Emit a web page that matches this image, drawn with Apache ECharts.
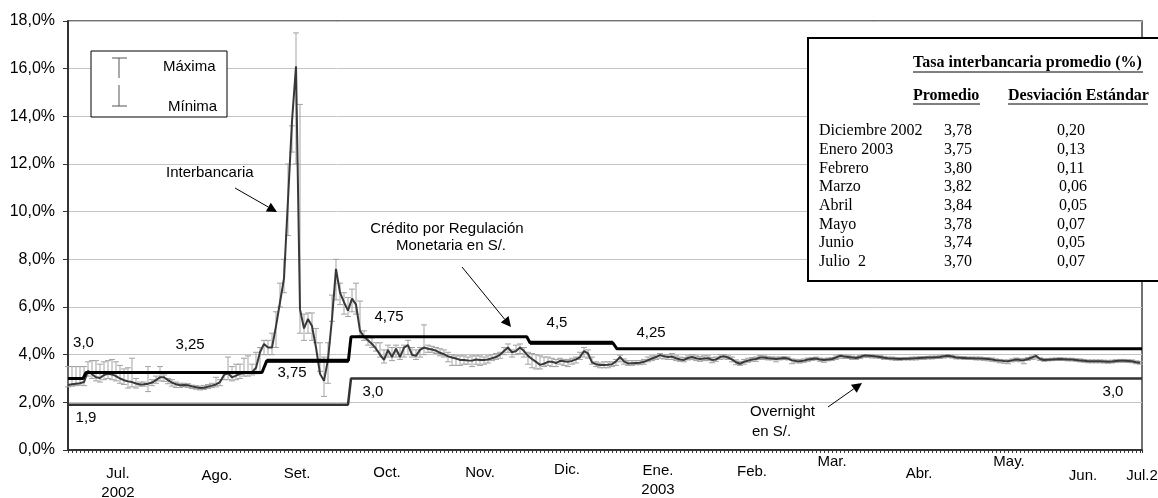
<!DOCTYPE html>
<html><head><meta charset="utf-8">
<script src="https://cdn.jsdelivr.net/npm/echarts@6/dist/echarts.min.js"></script>
<style>html,body{margin:0;padding:0;background:#fff}#c{width:1158px;height:498px}</style>
</head><body><div id="c"></div>
<script>
// ---- DATA ----
// Tasa interbancaria diaria (%), un valor por día hábil desde mediados de junio 2002 hasta el 2 de julio 2003
const interbancaria = [
 2.73,2.76,2.78,2.8,2.85,3.32,3.18,3.05,3.02,3.15,
 3.2,3.17,3.1,3.0,2.93,2.88,2.85,2.79,2.75,2.76,
 2.78,2.83,2.93,3.05,3.05,2.93,2.83,2.76,2.72,2.73,
 2.72,2.67,2.63,2.6,2.61,2.66,2.7,2.75,2.85,3.15,
 3.22,3.05,3.12,3.2,3.22,3.23,3.27,3.45,4.1,4.45,
 4.3,4.3,5.2,6.2,7.2,10.5,13.8,16.1,5.9,5.1,
 5.5,5.2,4.3,3.2,2.9,3.8,5.5,7.6,6.6,6.2,
 5.85,6.35,6.1,5.0,4.75,4.6,4.45,4.25,4.0,3.78,
 4.2,3.9,4.25,3.9,4.3,4.4,4.0,3.95,4.2,4.3,
 4.25,4.22,4.17,4.08,4.02,3.93,3.88,3.84,3.78,3.78,
 3.76,3.75,3.8,3.78,3.78,3.8,3.85,3.9,4.0,4.15,
 4.3,4.1,4.15,4.3,4.15,3.95,3.82,3.7,3.57,3.62,
 3.7,3.7,3.65,3.74,3.72,3.7,3.74,3.8,3.9,4.15,
 4.05,3.68,3.6,3.57,3.57,3.58,3.6,3.72,3.9,3.72,
 3.63,3.64,3.65,3.66,3.7,3.77,3.84,3.9,3.98,3.93,
 3.9,3.92,3.85,3.8,3.78,3.86,3.9,3.85,3.82,3.84,
 3.85,3.78,3.8,3.9,3.93,3.88,3.8,3.68,3.62,3.7,
 3.75,3.8,3.82,3.88,3.88,3.85,3.84,3.82,3.84,3.86,
 3.84,3.76,3.73,3.72,3.75,3.8,3.82,3.84,3.8,3.78,
 3.8,3.82,3.88,3.95,3.92,3.9,3.88,3.86,3.9,3.96,
 3.95,3.94,3.92,3.9,3.87,3.85,3.84,3.83,3.82,3.83,
 3.83,3.84,3.85,3.86,3.87,3.88,3.88,3.89,3.9,3.93,
 3.95,3.92,3.88,3.87,3.86,3.85,3.85,3.84,3.84,3.83,
 3.82,3.8,3.77,3.75,3.73,3.72,3.76,3.8,3.78,3.77,
 3.82,3.88,3.95,3.82,3.78,3.79,3.8,3.81,3.82,3.81,
 3.8,3.8,3.78,3.76,3.74,3.72,3.72,3.72,3.72,3.71,
 3.7,3.71,3.73,3.74,3.74,3.73,3.72,3.68,3.66
];
const maxima = [
 3.5,3.5,3.5,3.5,3.5,3.7,3.75,3.75,3.6,3.7,
 3.75,3.8,3.7,3.55,3.4,3.45,3.85,3.0,2.85,2.85,
 3.5,2.95,3.1,3.5,3.15,3.0,2.95,2.85,2.8,2.8,
 2.78,2.72,2.7,2.68,2.7,2.75,2.8,3.05,2.95,3.2,
 3.9,3.5,3.6,3.6,3.85,3.95,3.6,4.1,4.3,4.6,
 4.6,4.9,5.8,7.0,8.0,12.0,13.6,17.5,14.5,5.7,
 5.75,5.75,5.1,4.5,3.9,4.5,6.5,8.0,7.0,6.6,
 6.4,6.75,7.0,6.25,5.0,4.8,4.7,4.5,4.5,4.2,
 4.4,4.3,4.4,4.3,4.4,4.6,4.3,4.2,4.3,5.25,
 4.4,4.35,4.3,4.25,4.2,4.1,4.0,3.95,3.95,3.95,
 3.9,3.95,3.95,3.95,3.9,3.95,4.0,4.05,4.1,4.3,
 4.45,4.2,4.4,4.45,4.3,4.1,4.05,4.0,3.95,3.9,
 3.9,3.85,3.8,3.85,3.8,3.8,3.85,3.9,4.1,4.3,
 4.2,3.9,3.7,3.65,3.7,3.7,3.7,3.8,3.98,3.82,
 3.75,3.75,3.75,3.75,3.8,3.9,3.95,3.95,4.05,4.0,
 4.0,4.05,3.95,3.9,3.88,3.95,4.0,3.95,3.92,3.95,
 3.95,3.88,3.9,4.0,4.0,3.95,3.9,3.78,3.72,3.8,
 3.85,3.88,3.9,3.97,3.95,3.92,3.9,3.9,3.9,3.92,
 3.9,3.82,3.8,3.8,3.82,3.86,3.88,3.9,3.86,3.84,
 3.86,3.88,3.95,4.0,3.98,3.97,3.94,3.92,3.96,4.0,
 4.0,3.99,3.97,3.96,3.93,3.9,3.9,3.88,3.88,3.88,
 3.88,3.9,3.9,3.92,3.92,3.93,3.94,3.94,3.96,3.98,
 4.0,3.97,3.94,3.92,3.92,3.9,3.9,3.9,3.9,3.88,
 3.88,3.86,3.82,3.8,3.78,3.78,3.82,3.86,3.84,3.84,
 3.88,3.94,4.0,3.87,3.84,3.84,3.85,3.86,3.87,3.86,
 3.85,3.85,3.83,3.82,3.8,3.78,3.78,3.78,3.78,3.77,
 3.76,3.77,3.79,3.8,3.8,3.79,3.78,3.74,3.72
];
const minima = [
 2.65,2.68,2.7,2.72,2.7,3.1,3.0,2.9,2.85,2.95,
 3.0,2.95,2.9,2.8,2.75,2.6,2.65,2.6,2.68,2.68,
 2.45,2.7,2.8,2.9,2.88,2.78,2.68,2.62,2.62,2.65,
 2.62,2.58,2.55,2.52,2.54,2.58,2.62,2.65,2.7,2.95,
 2.95,2.9,2.95,3.0,3.1,3.1,3.15,3.2,3.3,4.0,
 4.0,4.0,4.3,6.0,6.6,9.0,12.5,12.0,4.9,4.6,
 4.9,4.6,4.5,3.3,2.25,2.8,5.4,6.3,6.1,5.7,
 5.6,5.8,5.7,4.8,4.6,4.4,4.3,4.15,3.9,3.65,
 3.9,3.75,3.9,3.8,3.9,4.0,3.9,3.8,3.9,4.0,
 4.1,4.1,4.05,3.95,3.9,3.7,3.55,3.55,3.55,3.6,
 3.6,3.5,3.6,3.55,3.6,3.65,3.75,3.8,3.85,4.0,
 4.1,3.9,4.0,4.05,3.9,3.6,3.45,3.4,3.4,3.5,
 3.55,3.5,3.5,3.6,3.55,3.5,3.6,3.65,3.8,3.9,
 3.85,3.6,3.5,3.45,3.45,3.45,3.5,3.55,3.7,3.6,
 3.55,3.55,3.58,3.58,3.6,3.7,3.75,3.8,3.85,3.82,
 3.8,3.8,3.75,3.72,3.7,3.78,3.8,3.75,3.72,3.75,
 3.75,3.66,3.72,3.8,3.82,3.8,3.7,3.58,3.55,3.6,
 3.68,3.72,3.72,3.8,3.8,3.78,3.78,3.7,3.78,3.8,
 3.78,3.62,3.66,3.65,3.68,3.72,3.76,3.78,3.72,3.68,
 3.74,3.76,3.8,3.85,3.84,3.84,3.8,3.8,3.84,3.88,
 3.88,3.86,3.86,3.84,3.8,3.8,3.78,3.76,3.76,3.78,
 3.78,3.78,3.78,3.8,3.8,3.82,3.82,3.84,3.84,3.86,
 3.88,3.86,3.82,3.82,3.8,3.8,3.8,3.78,3.78,3.76,
 3.74,3.72,3.7,3.66,3.64,3.62,3.7,3.72,3.7,3.62,
 3.76,3.8,3.82,3.76,3.72,3.74,3.75,3.76,3.76,3.76,
 3.74,3.74,3.72,3.7,3.68,3.66,3.66,3.66,3.66,3.65,
 3.64,3.65,3.67,3.68,3.68,3.67,3.66,3.62,3.6
];
// Crédito por Regulación Monetaria en S/. (tramos: día hábil inicial, final, tasa)
const creditoDesde = [0, 4.5, 49.7, 70.75, 115.5, 137.2];
const creditoHasta = [3.75, 48.5, 70.1, 114.7, 136.2, 268.5];
const creditoTasa  = [3.0, 3.25, 3.75, 4.75, 4.5, 4.25];
// Overnight en S/.
const overnightDesde = [0, 70.75];
const overnightHasta = [70.0, 268.5];
const overnightTasa  = [1.9, 3.0];
// Etiquetas del eje X
const mesEtiquetas = ['Jul.\n2002','Ago.','Set.','Oct.','Nov.','Dic.','Ene.\n2003','Feb.','Mar.','Abr.','May.','Jun.','Jul.2'];
const mesPosicion  = [12.5, 37.25, 57.25, 79.75, 103, 124.75, 147.5, 171, 191, 212.75, 235.25, 253.75, 268.5];
// Cuadro
const tablaMeses    = ['Diciembre 2002','Enero 2003','Febrero','Marzo','Abril','Mayo','Junio','Julio  2'];
const tablaPromedio = [3.78, 3.75, 3.80, 3.82, 3.84, 3.78, 3.74, 3.70];
const tablaDesv     = [0.20, 0.13, 0.11, 0.06, 0.05, 0.07, 0.05, 0.07];

// ---- STYLE / LAYOUT ----
const mesDesplaz = [12,14,12,11,11,8,9,10,0,12,0,14,14];
const creditoGrosor = [3,3,4,3,4,3];
const SANS = 'Liberation Sans, Arial, sans-serif';
const SERIF = 'Liberation Serif, Times New Roman, serif';
const fmtComa = (v, d) => v.toFixed(d).replace('.', ',');

function tramoLinea(desde, hasta, tasa) {
  const pts = [];
  for (let i = 0; i < tasa.length; i++) {
    pts.push([desde[i], tasa[i]]);
    pts.push([hasta[i], tasa[i]]);
  }
  return pts;
}
function tramosGruesos(desde, hasta, tasa, grosor) {
  const pts = [];
  for (let i = 0; i < tasa.length; i++) {
    if (grosor[i] > 3) {
      pts.push([desde[i], tasa[i]], [hasta[i], tasa[i]], [null, null]);
    }
  }
  return pts;
}

const rich = { n: { fontSize: 15, lineHeight: 24, fontFamily: SANS, color: '#000', verticalAlign: 'middle' } };
mesDesplaz.forEach(o => { rich['p' + o] = { fontSize: 15, lineHeight: 16 + o, fontFamily: SANS, color: '#000', verticalAlign: 'bottom' }; });

const chart = echarts.init(document.getElementById('c'));

function flecha(x1, y1, x2, y2, len, half) {
  const a = Math.atan2(y2 - y1, x2 - x1);
  const bx = x2 - len * Math.cos(a), by = y2 - len * Math.sin(a);
  const px = -Math.sin(a) * half, py = Math.cos(a) * half;
  return [
    { type: 'line', z: 100, shape: { x1: x1, y1: y1, x2: bx, y2: by }, style: { stroke: '#000', lineWidth: 1 } },
    { type: 'polygon', z: 100, shape: { points: [[x2, y2], [bx + px, by + py], [bx - px, by - py]] }, style: { fill: '#000' } }
  ];
}
function txt(x, y, text, opt) {
  return Object.assign({ type: 'text', z: 101, x: x, y: y,
    style: Object.assign({ text: text, font: '15px ' + SANS, fill: '#000', textAlign: 'center', textVerticalAlign: 'middle' }, opt || {}) });
}

const g = [];
// recuadro de leyenda Máxima / Mínima
g.push({ type: 'rect', z: 100, shape: { x: 91, y: 51, width: 136, height: 66 }, style: { fill: '#fff', stroke: '#000', lineWidth: 1 } });
const ls = { stroke: '#555', lineWidth: 1 };
g.push({ type: 'line', z: 101, shape: { x1: 119, y1: 58, x2: 119, y2: 78 }, style: ls });
g.push({ type: 'line', z: 101, shape: { x1: 112, y1: 58, x2: 127, y2: 58 }, style: ls });
g.push({ type: 'line', z: 101, shape: { x1: 119, y1: 85, x2: 119, y2: 106 }, style: ls });
g.push({ type: 'line', z: 101, shape: { x1: 112, y1: 106, x2: 127, y2: 106 }, style: ls });
g.push(txt(163, 67, 'Máxima', { textAlign: 'left' }));
g.push(txt(168, 107, 'Mínima', { textAlign: 'left' }));
// anotaciones
g.push(txt(166, 173, 'Interbancaria', { textAlign: 'left' }));
g.push(...flecha(235, 188, 277, 212, 10, 5));
g.push(txt(447, 229, 'Crédito por Regulación'));
g.push(txt(451, 246, 'Monetaria en S/.'));
g.push(...flecha(462, 267, 511, 327, 10, 5));
g.push(txt(750, 412, 'Overnight', { textAlign: 'left' }));
g.push(txt(752, 432, 'en S/.', { textAlign: 'left' }));
g.push(...flecha(828, 407, 862, 383, 10, 5));
// etiquetas de tasas
[[83.5, 343, '3,0'], [190, 345, '3,25'], [292, 373, '3,75'], [86, 418, '1,9'], [373, 392, '3,0'],
 [389, 317, '4,75'], [557, 323, '4,5'], [651, 333, '4,25'], [1113, 392, '3,0']]
  .forEach(e => g.push(txt(e[0], e[1], e[2])));
// cuadro
g.push({ type: 'rect', z: 100, shape: { x: 808, y: 38, width: 360, height: 243 }, style: { fill: '#fff', stroke: '#000', lineWidth: 2 } });
const ser = (b) => (b ? 'bold ' : '') + '16px ' + SERIF;
g.push(txt(913, 63, 'Tasa interbancaria promedio (%)', { textAlign: 'left', font: ser(true) }));
g.push({ type: 'line', z: 101, shape: { x1: 913, y1: 72, x2: 1143, y2: 72 }, style: { stroke: '#000', lineWidth: 1 } });
g.push(txt(913, 96, 'Promedio', { textAlign: 'left', font: ser(true) }));
g.push({ type: 'line', z: 101, shape: { x1: 913, y1: 104, x2: 980, y2: 104 }, style: { stroke: '#000', lineWidth: 1 } });
g.push(txt(1008, 96, 'Desviación Estándar', { textAlign: 'left', font: ser(true) }));
g.push({ type: 'line', z: 101, shape: { x1: 1008, y1: 104, x2: 1148, y2: 104 }, style: { stroke: '#000', lineWidth: 1 } });
tablaMeses.forEach((m, i) => {
  const y = 131 + i * 18.7;
  g.push(txt(819, y, m, { textAlign: 'left', font: ser(false) }));
  g.push(txt(944, y, fmtComa(tablaPromedio[i], 2), { textAlign: 'left', font: ser(false) }));
  g.push(txt((i === 3 || i === 4) ? 1059 : 1057, y, fmtComa(tablaDesv[i], 2), { textAlign: 'left', font: ser(false) }));
});

const option = {
  animation: false,
  backgroundColor: '#fff',
  grid: { left: 68, right: 16, top: 21, bottom: 48, show: true, borderColor: '#444', borderWidth: 1.5,
          backgroundColor: 'transparent', containLabel: false, outerBoundsMode: 'none' },
  xAxis: {
    type: 'value', min: 0, max: 268.5, interval: 1,
    splitLine: { show: false },
    axisLine: { show: true, onZero: false, lineStyle: { color: '#333', width: 2 } },
    axisTick: { show: true, length: 3, lineStyle: { color: '#333', width: 1 } },
    axisLabel: {
      customValues: mesPosicion, margin: 3, fontSize: 15, fontFamily: SANS, color: '#000', rich: rich,
      formatter: function (v) {
        let k = -1;
        mesPosicion.forEach((p, i) => { if (Math.abs(p - v) < 0.01) k = i; });
        if (k < 0) return '';
        return mesEtiquetas[k].split('\n').map((l, j) => j === 0 ? '{p' + mesDesplaz[k] + '|' + l + '}' : '{n|' + l + '}').join('\n');
      }
    }
  },
  yAxis: {
    type: 'value', min: 0, max: 18, interval: 2,
    axisLine: { show: true, lineStyle: { color: '#333', width: 2 } },
    axisTick: { show: true, length: 5, lineStyle: { color: '#333' } },
    splitLine: { show: true, lineStyle: { color: '#c4c4c4', width: 1 } },
    axisLabel: { fontSize: 16, fontFamily: SANS, color: '#000', margin: 13, formatter: v => fmtComa(v, 1) + '%' }
  },
  series: [
    {
      type: 'custom', name: 'Máx-Mín', z: 3,
      data: interbancaria.map((v, i) => [i, minima[i], maxima[i]]),
      encode: { x: 0, y: [1, 2] },
      renderItem: function (params, api) {
        const x = api.value(0);
        const lo = api.coord([x, api.value(1)]);
        const hi = api.coord([x, api.value(2)]);
        const w = 3;
        const st = { stroke: '#a3a3a3', lineWidth: 1 };
        return { type: 'group', children: [
          { type: 'line', shape: { x1: lo[0], y1: hi[1], x2: lo[0], y2: lo[1] }, style: st },
          { type: 'line', shape: { x1: lo[0] - w, y1: hi[1], x2: lo[0] + w, y2: hi[1] }, style: st },
          { type: 'line', shape: { x1: lo[0] - w, y1: lo[1], x2: lo[0] + w, y2: lo[1] }, style: st }
        ] };
      }
    },
    {
      type: 'line', name: 'Interbancaria', z: 5, symbol: 'none',
      data: interbancaria.map((v, i) => [i, v]),
      lineStyle: { color: '#383838', width: 2 }
    },
    {
      type: 'line', name: 'Crédito por Regulación', z: 6, symbol: 'none',
      data: tramoLinea(creditoDesde, creditoHasta, creditoTasa),
      lineStyle: { color: '#000', width: 3 }
    },
    {
      type: 'line', name: 'Crédito (tramos)', z: 6, symbol: 'none', connectNulls: false,
      data: tramosGruesos(creditoDesde, creditoHasta, creditoTasa, creditoGrosor),
      lineStyle: { color: '#000', width: 4 }
    },
    {
      type: 'line', name: 'Overnight', z: 6, symbol: 'none',
      data: tramoLinea(overnightDesde, overnightHasta, overnightTasa),
      lineStyle: { color: '#333', width: 2.5 }
    }
  ],
  graphic: { elements: g }
};
chart.setOption(option);
</script>
</body></html>
